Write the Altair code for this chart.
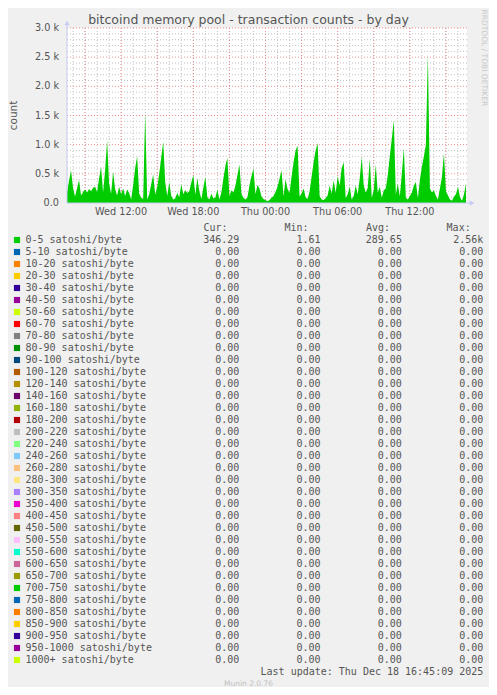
"""Pool de memoria de bitcoind: recuento de transacciones por día (estilo Munin)."""

import altair as alt
import pandas as pd


COLOR_TEXTO = "#555555"
COLOR_EJE = "#c5cbf2"
COLOR_AREA = "#00cc00"
FUENTE = "DejaVu Sans"
MONO = "DejaVu Sans Mono"

ANCHO = 400
ALTO = 175

TITULO = "bitcoind memory pool - transaction counts - by day"
ACTUALIZADO = "Last update: Thu Dec 18 16:45:09 2025"

# recuento 0-5 satoshi/byte, una lectura cada 10 minutos desde el miércoles 07:30
INICIO = "2025-12-17 07:30"
conteos = [
    170, 380, 560, 260, 110, 250, 400, 130, 190, 230,
    180, 240, 200, 260, 280, 190, 420, 620, 180, 560,
    1070, 330, 160, 540, 240, 130, 280, 150, 250, 120,
    230, 170, 60, 310, 600, 800, 160, 90, 70, 1560,
    60, 150, 320, 490, 140, 280, 500, 780, 1050, 350,
    120, 360, 120, 60, 80, 170, 100, 320, 150, 220,
    170, 200, 350, 480, 140, 430, 200, 70, 260, 450,
    100, 60, 160, 80, 90, 230, 60, 180, 420, 640,
    770, 120, 220, 180, 300, 480, 660, 160, 90, 60,
    100, 300, 460, 590, 150, 310, 250, 110, 70, 50,
    30, 50, 90, 120, 190, 280, 420, 560, 110, 410,
    240, 170, 450, 700, 900, 980, 110, 160, 250, 100,
    70, 200, 450, 700, 900, 1030, 120, 60, 50, 80,
    130, 300, 160, 390, 170, 460, 300, 600, 700, 80,
    150, 280, 60, 120, 300, 150, 420, 790, 300, 180,
    260, 760, 90, 220, 650, 180, 280, 90, 220, 250,
    480, 800, 1100, 1420, 150, 330, 110, 500, 940, 90,
    60, 120, 180, 300, 360, 80, 400, 620, 800, 1000,
    2560, 250, 180, 220, 120, 60, 250, 450, 850, 200,
    130, 60, 40, 110, 150, 280, 100, 40, 150, 330,
]

# marcas de los ejes
marcas_x = ["2025-12-17 12:00", "2025-12-17 18:00", "2025-12-18 00:00",
            "2025-12-18 06:00", "2025-12-18 12:00"]
etiquetas_x = ["Wed 12:00", "Wed 18:00", "Thu 00:00", "Thu 06:00", "Thu 12:00"]
marcas_y = [0, 500, 1000, 1500, 2000, 2500, 3000]
etiquetas_y = ["0.0", "0.5 k", "1.0 k", "1.5 k", "2.0 k", "2.5 k", "3.0 k"]

rangos = [
    "0-5", "5-10", "10-20", "20-30", "30-40", "40-50", "50-60", "60-70",
    "70-80", "80-90", "90-100", "100-120", "120-140", "140-160", "160-180",
    "180-200", "200-220", "220-240", "240-260", "260-280", "280-300",
    "300-350", "350-400", "400-450", "450-500", "500-550", "550-600",
    "600-650", "650-700", "700-750", "750-800", "800-850", "850-900",
    "900-950", "950-1000", "1000+",
]
colores = [
    "#00CC00", "#0066B3", "#FF8000", "#FFCC00", "#330099", "#990099",
    "#CCFF00", "#FF0000", "#808080", "#008F00", "#00487D", "#B35A00",
    "#B38F00", "#6B006B", "#8FB300", "#B30000", "#BEBEBE", "#80FF80",
    "#80C9FF", "#FFC080", "#FFE680", "#AA80FF", "#EE00CC", "#FF8080",
    "#666600", "#FFBFFF", "#00FFCC", "#CC6699", "#999900", "#00CC00",
    "#0066B3", "#FF8000", "#FFCC00", "#330099", "#990099", "#CCFF00",
]
actual = [346.29, 0, 0, 0, 0, 0, 0, 0, 0, 0, 0, 0, 0, 0, 0, 0, 0, 0,
          0, 0, 0, 0, 0, 0, 0, 0, 0, 0, 0, 0, 0, 0, 0, 0, 0, 0]
minimo = [1.61, 0, 0, 0, 0, 0, 0, 0, 0, 0, 0, 0, 0, 0, 0, 0, 0, 0,
          0, 0, 0, 0, 0, 0, 0, 0, 0, 0, 0, 0, 0, 0, 0, 0, 0, 0]
promedio = [289.65, 0, 0, 0, 0, 0, 0, 0, 0, 0, 0, 0, 0, 0, 0, 0, 0, 0,
            0, 0, 0, 0, 0, 0, 0, 0, 0, 0, 0, 0, 0, 0, 0, 0, 0, 0]
maximo = [2560, 0, 0, 0, 0, 0, 0, 0, 0, 0, 0, 0, 0, 0, 0, 0, 0, 0,
          0, 0, 0, 0, 0, 0, 0, 0, 0, 0, 0, 0, 0, 0, 0, 0, 0, 0]


def _fmt(v: float) -> str:
    """Formato rrdtool: dos decimales y sufijo k (o espacio duro)."""
    if v >= 1000:
        return f"{v / 1000:.2f}k"
    return f"{v:.2f}\u00a0"


def _hora(dia: int, h: int, m: int = 0) -> alt.DateTime:
    return alt.DateTime(year=2025, month=12, date=dia, hours=h, minutes=m)


def _texto(texto: str, x: float, y: float, **estilo) -> alt.Chart:
    """Texto suelto en coordenadas del área de trazado."""
    opciones = dict(font=FUENTE, fontSize=9.7, color=COLOR_TEXTO, align="left", baseline="middle")
    opciones.update(estilo)
    return alt.Chart(pd.DataFrame({"texto": [texto]})).mark_text(**opciones).encode(
        text="texto:N", x=alt.value(x), y=alt.value(y)
    )


serie = pd.DataFrame({
    "t": pd.date_range(INICIO, periods=len(conteos), freq="10min"),
    "n": conteos,
})

x_scale = alt.Scale(domain=[_hora(17, 7, 30), _hora(18, 16, 45)], nice=False)
y_scale = alt.Scale(domain=[0, 3000], nice=False)


def _x(campo: str = "t:T") -> alt.X:
    return alt.X(campo, scale=x_scale, axis=None)


def _y(campo: str) -> alt.Y:
    return alt.Y(campo, scale=y_scale, axis=None)


horas = pd.DataFrame({"t": pd.date_range("2025-12-17 08:00", "2025-12-18 16:00", freq="1h")})
horas_mayor = pd.DataFrame({"t": pd.date_range("2025-12-17 09:00", "2025-12-18 15:00", freq="3h")})
niveles = pd.DataFrame({"v": [v for v in range(100, 3000, 100) if v % 500]})
niveles_mayor = pd.DataFrame({"v": list(range(500, 3001, 500))})

rejilla = dict(strokeWidth=1, strokeDash=[1, 2])
rej_x = alt.Chart(horas).mark_rule(color="#c4c4c4", **rejilla).encode(
    x=_x(), y=alt.value(0), y2=alt.value(ALTO)
)
rej_y = alt.Chart(niveles).mark_rule(color="#c4c4c4", **rejilla).encode(
    y=_y("v:Q"), x=alt.value(0), x2=alt.value(ANCHO)
)
rej_x_mayor = alt.Chart(horas_mayor).mark_rule(color="#ee8f8f", **rejilla).encode(
    x=_x(), y=alt.value(0), y2=alt.value(ALTO)
)
rej_y_mayor = alt.Chart(niveles_mayor).mark_rule(color="#ee8f8f", **rejilla).encode(
    y=_y("v:Q"), x=alt.value(0), x2=alt.value(ANCHO)
)

area = alt.Chart(serie).mark_area(color=COLOR_AREA, opacity=1, interpolate="linear").encode(
    x=_x(), y=_y("n:Q")
)

# etiquetas de los ejes, colocadas por las propias escalas
ticks_x = alt.Chart(pd.DataFrame({"t": pd.to_datetime(marcas_x), "txt": etiquetas_x})).mark_text(
    font=FUENTE, fontSize=9.7, color=COLOR_TEXTO, align="center", baseline="middle"
).encode(x=_x(), y=alt.value(ALTO + 9), text="txt:N")
ticks_y = alt.Chart(pd.DataFrame({"v": marcas_y, "txt": etiquetas_y})).mark_text(
    font=FUENTE, fontSize=9.7, color=COLOR_TEXTO, align="right", baseline="middle"
).encode(y=_y("v:Q"), x=alt.value(-8), text="txt:N")

uno = pd.DataFrame({"a": [0]})
eje_y = alt.Chart(uno).mark_rule(color=COLOR_EJE).encode(
    x=alt.value(0), y=alt.value(-4), y2=alt.value(ALTO)
)
eje_x = alt.Chart(uno).mark_rule(color=COLOR_EJE).encode(
    x=alt.value(0), x2=alt.value(ANCHO + 4), y=alt.value(ALTO)
)
flecha_y = alt.Chart(uno).mark_point(shape="triangle-up", filled=True, opacity=1, size=28, color=COLOR_EJE).encode(
    x=alt.value(0), y=alt.value(-5)
)
flecha_x = alt.Chart(uno).mark_point(shape="triangle-right", filled=True, opacity=1, size=28, color=COLOR_EJE).encode(
    x=alt.value(ANCHO + 5), y=alt.value(ALTO)
)

grafico = alt.layer(
    rej_x, rej_y, rej_x_mayor, rej_y_mayor, area, ticks_x, ticks_y, eje_y, eje_x, flecha_y, flecha_x
)

# tabla de leyenda
leyenda = pd.DataFrame({
    "etiqueta": [f"{r} satoshi/byte" for r in rangos],
    "color": colores,
    "cur": [_fmt(v) for v in actual],
    "min": [_fmt(v) for v in minimo],
    "avg": [_fmt(v) for v in promedio],
    "max": [_fmt(v) for v in maximo],
})
y_ley = alt.Y(
    "etiqueta:N",
    sort=None,
    scale=alt.Scale(type="point", domain=list(leyenda["etiqueta"]), range=[212, 632], padding=0),
    axis=None,
)
base_ley = alt.Chart(leyenda)
cuadros = base_ley.mark_square(size=38, filled=True, opacity=1).encode(
    x=alt.value(-50), y=y_ley, color=alt.Color("color:N", scale=None)
)
estilo_mono = dict(font=MONO, fontSize=10, color=COLOR_TEXTO, baseline="middle")
nombres = base_ley.mark_text(align="left", **estilo_mono).encode(
    x=alt.value(-41.5), y=y_ley, text="etiqueta:N"
)
columnas = [
    base_ley.mark_text(align="right", **estilo_mono).encode(x=alt.value(x), y=y_ley, text=f"{c}:N")
    for c, x in [("cur", 172.3), ("min", 253.6), ("avg", 334.9), ("max", 416.3)]
]
cabeceras = [
    _texto(t, x, 199.7, font=MONO, fontSize=10)
    for t, x in [("Cur:", 136.4), ("Min:", 217.4), ("Avg:", 298.9), ("Max:", 379.6)]
]
tabla = alt.layer(cuadros, nombres, *columnas, *cabeceras)

decor = alt.layer(
    _texto(TITULO, 181.5, -4, fontSize=12.5, align="center", baseline="alphabetic"),
    _texto("count", -53, ALTO / 2, fontSize=10.5, align="center", angle=270),
    _texto("RRDTOOL / TOBI OETIKER", 417, -18.5, fontSize=7.5, color="#c8c8c8", angle=90),
    _texto(ACTUALIZADO, 416.3, 643.7, font=MONO, fontSize=10, align="right"),
    _texto("Munin 2.0.76", 181.5, 656, fontSize=7.5, color="#c0c0c0", align="center"),
)

chart = (
    alt.layer(grafico, tabla, decor)
    .resolve_scale(y="independent")
    .properties(
        width=ANCHO,
        height=ALTO,
        autosize=alt.AutoSizeParams(type="none"),
        padding={"left": 59, "top": 20, "right": 22, "bottom": 484},
    )
    .configure(background="#f0f0f0")
    .configure_view(fill="white", strokeWidth=0)
)

chart.save("out.html", embed_options={"renderer": "svg", "actions": False})
